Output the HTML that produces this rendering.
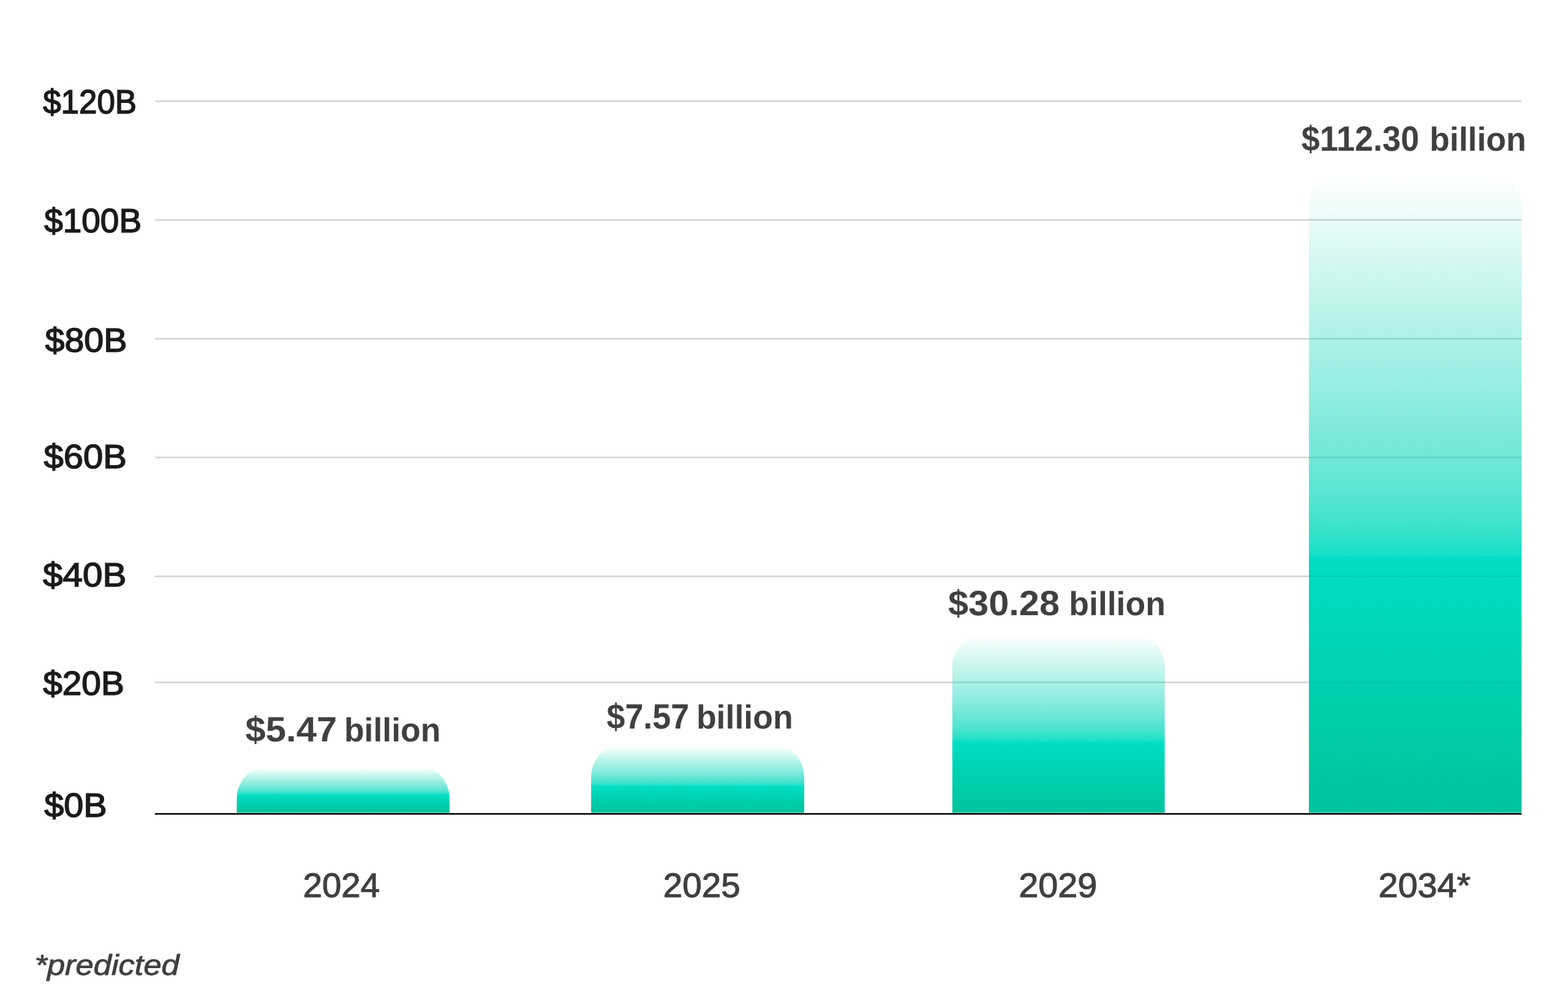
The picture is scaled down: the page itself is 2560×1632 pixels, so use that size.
<!DOCTYPE html>
<html lang="en">
<head>
<meta charset="utf-8">
<style>
html,body{margin:0;padding:0;background:#fff;}
body{width:2560px;height:1632px;position:relative;overflow:hidden;font-family:"Liberation Sans",Arial,Helvetica,sans-serif;}
#chart{position:absolute;left:0;top:0;width:2560px;height:1632px;display:block;}
.g{position:absolute;left:0;top:0;width:0;height:0;margin:0;padding:0;}
.t{position:absolute;display:block;white-space:nowrap;line-height:1;transform-origin:0 0;margin:0;padding:0;text-rendering:geometricPrecision;font-kerning:normal;}
.ax{color:#1b1b1b;font-weight:400;font-style:normal;font-size:54.9px;-webkit-text-stroke:1.6px #1b1b1b;}
.yr{color:#404040;font-weight:400;font-style:normal;font-size:55.6px;-webkit-text-stroke:1.15px #404040;}
.val{color:#404040;font-weight:700;font-style:normal;font-size:57.3px;}
.valb{color:#404040;font-weight:700;font-style:normal;font-size:54.5px;}
.note{color:#404040;font-weight:400;font-style:italic;font-size:47px;-webkit-text-stroke:0.9px #404040;}
</style>
</head>
<body>
<svg id="chart" width="2560" height="1632" viewBox="0 0 2560 1632" shape-rendering="geometricPrecision" aria-hidden="true">
<defs>
<linearGradient id="g" x1="0" y1="0" x2="0" y2="1">
<stop offset="0%" stop-color="#00d4b5" stop-opacity="0"/>
<stop offset="10.17%" stop-color="#00d4b5" stop-opacity="0.125"/>
<stop offset="15.55%" stop-color="#00d4b5" stop-opacity="0.196"/>
<stop offset="23.32%" stop-color="#00d4b5" stop-opacity="0.294"/>
<stop offset="34.98%" stop-color="#00d4b5" stop-opacity="0.435"/>
<stop offset="44.25%" stop-color="#00d5b7" stop-opacity="0.56"/>
<stop offset="49.4%" stop-color="#00d7ba" stop-opacity="0.643"/>
<stop offset="54.18%" stop-color="#00d9bd" stop-opacity="0.74"/>
<stop offset="56.57%" stop-color="#00dbbf" stop-opacity="0.81"/>
<stop offset="59.02%" stop-color="#00dcc0" stop-opacity="0.89"/>
<stop offset="59.8%" stop-color="#00dcc1" stop-opacity="0.92"/>
<stop offset="59.8%" stop-color="#00dec4" stop-opacity="1"/>
<stop offset="100%" stop-color="#00c39c" stop-opacity="1"/>
</linearGradient>
</defs>
<g fill="#d4d4d4">
<rect x="253" y="163.8" width="2231.3" height="2.6"/>
<rect x="253" y="357.6" width="2231.3" height="2.6"/>
<rect x="253" y="551.5" width="2231.3" height="2.6"/>
<rect x="253" y="745.3" width="2231.3" height="2.6"/>
<rect x="253" y="939.3" width="2231.3" height="2.6"/>
<rect x="253" y="1112.3" width="2231.3" height="2.6"/>
</g>
<g fill="url(#g)">
<path d="M386.6 1326.5 V1304.3 A45 52 0 0 1 431.6 1252.3 H689.1 A45 52 0 0 1 734.1 1304.3 V1326.5 Z"/>
<path d="M965.1 1326.5 V1269.1 A45 52 0 0 1 1010.1 1217.1 H1267.9 A45 52 0 0 1 1312.9 1269.1 V1326.5 Z"/>
<path d="M1554.8 1326.5 V1089.3 A45 52 0 0 1 1599.8 1037.3 H1856.6 A45 52 0 0 1 1901.6 1089.3 V1326.5 Z"/>
<path d="M2137 1326.5 V337.5 A45 52 0 0 1 2182 285.5 H2439.3 A45 52 0 0 1 2484.3 337.5 V1326.5 Z"/>
</g>
<rect x="2137" y="939.4" width="347.3" height="2.4" fill="#003828" fill-opacity="0.09"/>
<rect x="2137" y="1112.4" width="347.3" height="2.4" fill="#003828" fill-opacity="0.05"/>
<rect x="253" y="1326.97" width="2231.3" height="2.55" fill="#000"/>
</svg>
<div class="g" id="g-y120"><span id="y120" class="t ax" style="left:70px;top:139px;transform:translateX(0.14px) scaleX(0.9640);">$120B</span></div>
<div class="g" id="g-y100"><span id="y100" class="t ax" style="left:72px;top:333px;transform:translateX(0.23px) scaleX(1.0006);">$100B</span></div>
<div class="g" id="g-y80"><span id="y80" class="t ax" style="left:73px;top:528px;transform:translateX(0.56px) scaleX(1.0451);">$80B</span></div>
<div class="g" id="g-y60"><span id="y60" class="t ax" style="left:71px;top:718px;transform:translateX(0.56px) scaleX(1.0551);">$60B</span></div>
<div class="g" id="g-y40"><span id="y40" class="t ax" style="left:70px;top:911px;transform:translateX(0.09px) scaleX(1.0637);">$40B</span></div>
<div class="g" id="g-y20"><span id="y20" class="t ax" style="left:70px;top:1088px;transform:translateX(0.18px) scaleX(1.0347);">$20B</span></div>
<div class="g" id="g-y0"><span id="y0" class="t ax" style="left:72px;top:1287px;transform:translateX(0.26px) scaleX(1.0483);">$0B</span></div>
<div class="g" id="g-v1"><span id="v1a" class="t val" style="left:400px;top:1163px;transform:translateX(0.61px) scaleX(1.0431);">$5.47</span> <span id="v1b" class="t valb" style="left:561px;top:1165px;transform:translateX(0.91px) scaleX(0.9815);">billion</span></div>
<div class="g" id="g-v2"><span id="v2a" class="t val" style="left:990px;top:1142px;transform:translateX(0.44px) scaleX(0.9395);">$7.57</span> <span id="v2b" class="t valb" style="left:1136px;top:1144px;transform:translateX(0.88px) scaleX(0.9836);">billion</span></div>
<div class="g" id="g-v3"><span id="v3a" class="t val" style="left:1548px;top:957px;transform:translateX(0.03px) scaleX(1.0381);">$30.28</span> <span id="v3b" class="t valb" style="left:1745px;top:959px;transform:translateX(0.34px) scaleX(0.9817);">billion</span></div>
<div class="g" id="g-v4"><span id="v4a" class="t val" style="left:2124px;top:199px;transform:translateX(0.84px) scaleX(0.9425);">$112.30</span> <span id="v4b" class="t valb" style="left:2334px;top:201px;transform:translateX(0.03px) scaleX(0.9835);">billion</span></div>
<div class="g" id="g-x2024"><span id="x2024" class="t yr" style="left:494px;top:1418px;transform:translateX(0.66px) scaleX(1.0139);">2024</span></div>
<div class="g" id="g-x2025"><span id="x2025" class="t yr" style="left:1082px;top:1418px;transform:translateX(0.81px) scaleX(1.0178);">2025</span></div>
<div class="g" id="g-x2029"><span id="x2029" class="t yr" style="left:1663px;top:1418px;transform:translateX(0.15px) scaleX(1.0354);">2029</span></div>
<div class="g" id="g-x2034"><span id="x2034" class="t yr" style="left:2250px;top:1418px;transform:translateX(0.41px) scaleX(1.0347);">2034*</span></div>
<div class="g" id="g-note"><span id="note" class="t note" style="left:56px;top:1551px;transform:translateX(0.48px) scaleX(1.1165);">*predicted</span></div>
</body>
</html>
